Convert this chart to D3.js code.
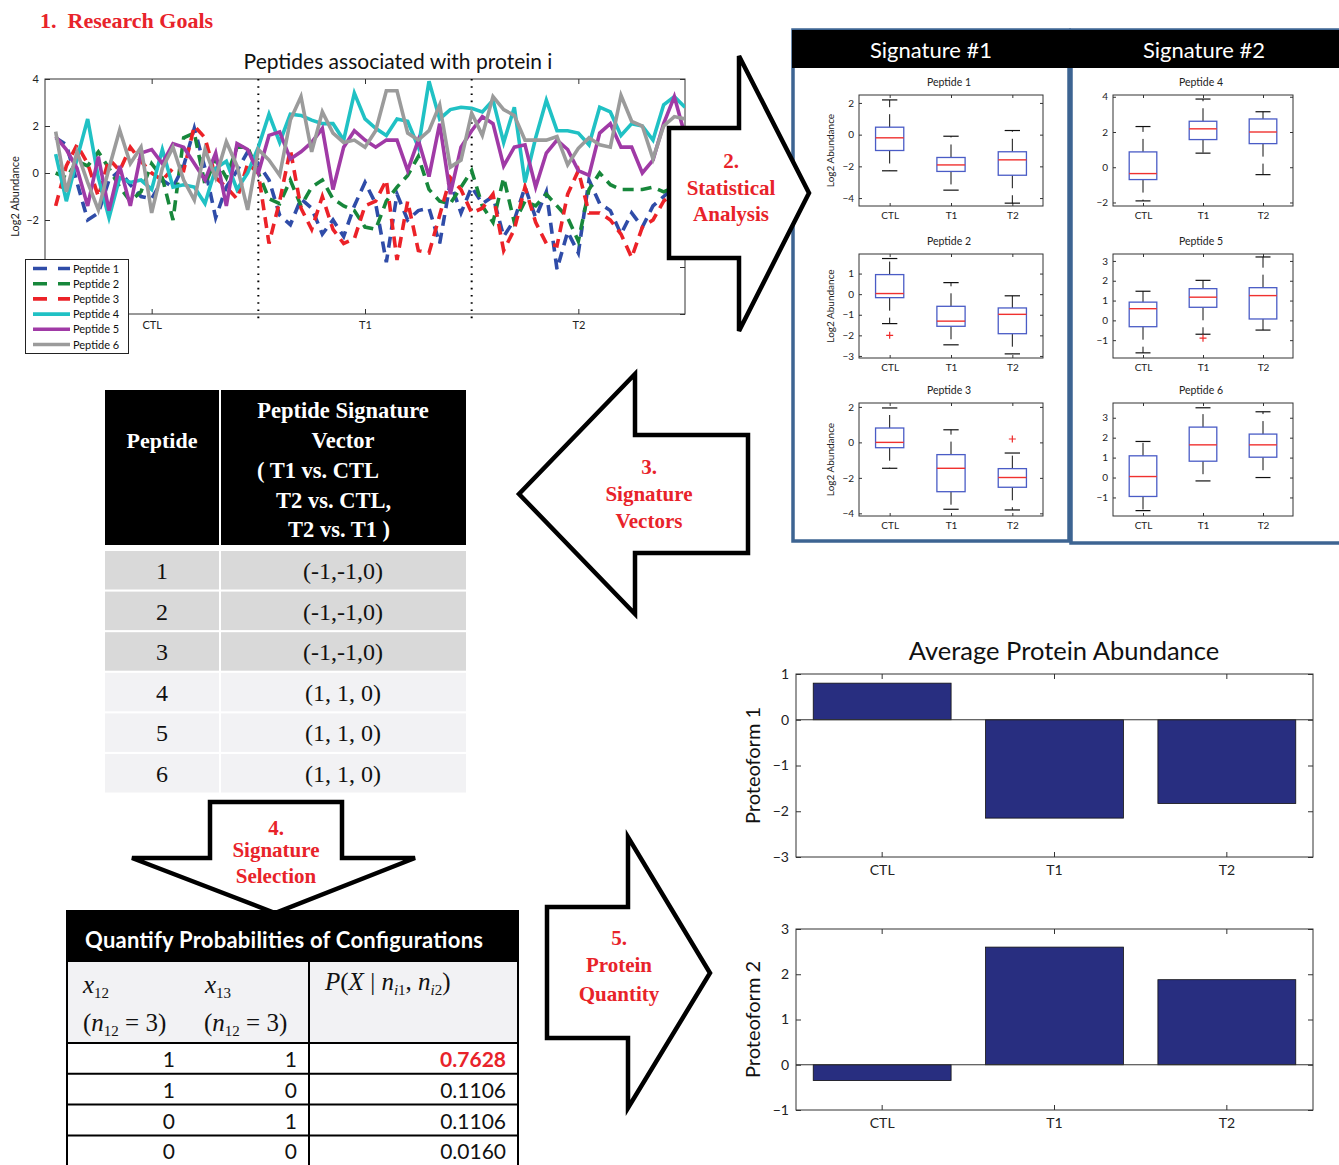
<!DOCTYPE html>
<html>
<head>
<meta charset="utf-8">
<script src="https://cdn.jsdelivr.net/npm/d3@7"></script>
<style>
  body { margin: 0; background: #fff; }
  svg { display: block; }
</style>
</head>
<body>
<svg id="fig" width="1339" height="1165"></svg>
<script>
// ---- data ----
const groups = ["CTL", "T1", "T2"];
const peptideNames = ["Peptide 1", "Peptide 2", "Peptide 3", "Peptide 4", "Peptide 5", "Peptide 6"];
const lineColors = ["#2f4ca8", "#17873b", "#ec2228", "#20c1c4", "#a03aa6", "#9b9b9b"];

// 60 samples per peptide: 1-20 CTL, 21-40 T1, 41-60 T2
const pep1 = [1.5, 1.2, -0.4, -2.0, -1.7, -0.3, 0.1, -0.5, -1.0, -1.1, -0.3, -0.6, 0.3, 1.9, 0.2, -1.9, -0.6, 0.1, 0.9, 0.4,
              -0.3, -1.8, -2.2, -1.1, -1.5, -2.6, -2.0, -2.7, -1.4, -0.4, -1.3, -3.8, -0.9, -2.0, -1.6, -1.5, -3.0, -0.4, -1.7, -0.6,
              -1.3, -1.0, -2.7, -2.0, -0.6, -1.9, -0.8, -4.1, -2.5, -3.4, -0.3, -1.3, -1.6, -2.6, -1.7, -2.3, -1.4, -1.0, -0.6, -1.2];
const pep2 = [0.0, -0.2, 0.5, 0.3, 0.9, 0.2, -0.6, -1.2, -0.8, 0.4, -0.2, -2.0, 1.5, 1.7, -0.5, 0.6, -0.2, 1.1, 1.1, 0.0,
              -1.1, -1.3, -0.3, -1.4, -0.6, -0.3, -1.1, -1.4, -1.6, -2.3, -2.4, -1.2, -0.6, -0.1, 0.7, -0.7, -1.2, -1.3, -0.6, 0.1,
              -1.4, -2.1, -0.2, -2.1, -1.2, -1.4, -0.9, -1.4, -1.9, -2.9, -0.7, 0.0, -0.5, -0.7, -0.7, -0.7, -0.6, -0.8, -0.6, -0.5];
const pep3 = [-1.4, 0.3, 1.2, 0.4, -1.0, 0.6, 0.1, 1.1, 0.5, 0.0, -0.3, 0.2, 0.1, 2.0, 1.5, -0.2, -0.6, -1.1, 0.4, 0.0,
              -3.0, -1.2, 1.0, -1.5, -2.4, -1.0, -2.4, -3.0, -2.8, -1.4, -1.2, -0.3, -3.7, -1.2, -3.3, -3.4, -1.8, -0.2, -0.7, -1.7,
              -1.5, -0.9, -3.3, -2.4, -0.6, -2.1, -3.0, -3.1, -0.9, 0.1, -1.7, -1.7, -2.0, -2.6, -3.6, -2.3, -2.0, -1.2, -0.8, -0.5];
const pep4 = [0.8, -1.2, 0.6, 2.3, -0.2, -1.9, -0.2, -0.4, -0.3, -0.7, 1.0, -0.6, -0.5, -0.6, -1.3, 0.2, 0.5, -0.7, 0.0, 1.1,
              2.5, 1.3, 2.5, 2.45, 2.25, 2.1, 2.1, 1.4, 3.4, 2.3, 1.9, 1.6, 2.3, 2.2, 1.1, 3.9, 2.3, 2.7, 2.8, 2.75,
              2.6, 3.1, 1.3, 2.8, -0.4, 1.5, 3.1, 1.8, 1.8, 1.7, 1.2, 2.8, 2.6, 1.6, 2.1, 2.0, 1.4, 2.9, 3.25, 2.8];
const pep5 = [1.55, 1.0, 0.2, -1.4, 0.7, -1.6, 0.3, -1.4, 0.85, 1.0, 0.4, 1.25, 1.1, 0.4, -0.3, 0.85, -1.4, 1.25, 1.0, 0.0,
              1.6, 1.75, 0.6, 0.9, 1.3, 1.9, -0.7, 1.1, 1.8, 1.4, 1.1, 1.4, 1.4, 0.1, 1.4, -0.15, 2.1, -0.9, 1.1, 1.8,
              2.4, 2.1, 0.3, 1.1, 1.2, -0.6, 0.85, 1.4, 1.0, 0.1, -0.1, 1.7, 2.1, 1.1, 1.1, 0.0, 0.55, 2.1, 3.25, 1.6];
const pep6 = [1.76, -0.8, 0.9, -0.4, -1.57, 0.2, 1.83, 0.4, 1.1, -1.7, 0.2, 1.1, -0.3, -1.15, 1.0, -0.2, 1.33, 0.3, -1.57, 1.0,
              0.55, -0.1, 2.25, 3.25, 0.9, 2.6, 1.7, 1.3, 1.4, 1.1, 1.8, 3.5, 3.5, 1.7, 1.4, 1.8, 2.9, 0.25, 0.55, 2.55,
              1.6, 3.25, 2.7, 2.45, 1.4, 1.4, 1.4, 1.55, 0.35, 1.05, 1.5, 1.2, 1.1, 3.3, 2.2, 2.0, 0.6, 2.0, 2.4, 2.3];

// box stats per group: [lower whisker, q1, median, q3, upper whisker]
const box1 = [[-2.28, -1.0, -0.2, 0.47, 2.19], [-3.5, -2.32, -1.91, -1.44, -0.1], [-4.32, -2.56, -1.59, -1.08, 0.26]];
const box2 = [[-1.43, -0.17, 0.03, 0.95, 1.73], [-2.46, -1.56, -1.31, -0.59, 0.56], [-2.9, -1.92, -0.98, -0.67, -0.08]];
const box3 = [[-1.46, -0.3, 0.0, 0.81, 1.94], [-3.77, -2.78, -1.46, -0.69, 0.71], [-3.81, -2.53, -1.98, -1.48, -0.6]];
const box4 = [[-1.91, -0.7, -0.36, 0.87, 2.31], [0.8, 1.57, 2.18, 2.61, 3.87], [-0.42, 1.34, 2.0, 2.74, 3.15]];
const box5 = [[-1.64, -0.32, 0.59, 0.92, 1.47], [-0.7, 0.66, 1.17, 1.6, 2.02], [-0.49, 0.07, 1.25, 1.65, 3.2]];
const box6 = [[-1.66, -0.95, 0.05, 1.09, 1.81], [-0.17, 0.82, 1.64, 2.53, 3.5], [0.0, 1.02, 1.64, 2.18, 3.3]];
const outliers = [[[], [], []], [[-2.0], [], []], [[], [], [0.19]], [[], [], []], [[], [-0.9], []], [[], [], []]];
const boxDomains = [[-4.5, 2.5], [-3.1, 1.95], [-4.15, 2.22], [-2.2, 4.1], [-1.9, 3.35], [-1.93, 3.74]];
const boxTicks = [[-4, -2, 0, 2], [-3, -2, -1, 0, 1], [-4, -2, 0, 2], [-2, 0, 2, 4], [-1, 0, 1, 2, 3], [-1, 0, 1, 2, 3]];

const peptideIds = ["1", "2", "3", "4", "5", "6"];
const sigVectors = ["(-1,-1,0)", "(-1,-1,0)", "(-1,-1,0)", "(1, 1, 0)", "(1, 1, 0)", "(1, 1, 0)"];

const cfgX12 = [1, 1, 0, 0];
const cfgX13 = [1, 0, 1, 0];
const cfgProb = [0.7628, 0.1106, 0.1106, 0.0160];

const proteoform1 = [0.8, -2.15, -1.83];
const proteoform2 = [-0.35, 2.6, 1.88];

// ---- setup ----
const sans = "Lato, 'Open Sans', sans-serif";
const serif = "'Liberation Serif', 'Times New Roman', serif";
const red = "#e8232a";
const intFmt = d3.format("d");
const svg = d3.select("#fig");
svg.append("rect").attr("width", 1339).attr("height", 1165).attr("fill", "#fff");

function styleAxis(sel, fs) {
    sel.select(".domain").remove();
    sel.selectAll(".tick line").attr("stroke", "#333").attr("stroke-width", 1);
    sel.selectAll(".tick text").attr("font-family", sans).attr("font-size", fs).attr("fill", "#222");
}

// MATLAB style boxed axes, ticks pointing inwards on all four sides
function matlabFrame(g, x, y, xVals, xFmt, yVals, fs, tl, pad) {
    const [left, right] = x.range();
    const [bottom, top] = y.range();
    g.append("g").attr("transform", `translate(0,${bottom})`)
        .call(d3.axisBottom(x).tickValues(xVals).tickFormat(xFmt).tickSize(-tl).tickPadding(pad))
        .call(s => styleAxis(s, fs));
    g.append("g").attr("transform", `translate(0,${top})`)
        .call(d3.axisTop(x).tickValues(xVals).tickFormat("").tickSize(-tl))
        .call(s => styleAxis(s, fs));
    g.append("g").attr("transform", `translate(${left},0)`)
        .call(d3.axisLeft(y).tickValues(yVals).tickFormat(intFmt).tickSize(-tl).tickPadding(pad - 1))
        .call(s => styleAxis(s, fs));
    g.append("g").attr("transform", `translate(${right},0)`)
        .call(d3.axisRight(y).tickValues(yVals).tickFormat("").tickSize(-tl))
        .call(s => styleAxis(s, fs));
    g.append("rect")
        .attr("x", left).attr("y", top)
        .attr("width", right - left).attr("height", bottom - top)
        .attr("fill", "none").attr("stroke", "#333").attr("stroke-width", 1);
}

function redLabel(lines, cx, ys, fs) {
    lines.forEach((t, i) => {
        svg.append("text")
            .attr("x", cx).attr("y", ys[i])
            .attr("text-anchor", "middle")
            .attr("font-family", serif).attr("font-weight", "bold")
            .attr("font-size", fs).attr("fill", red)
            .text(t);
    });
}

function blockArrow(points) {
    svg.append("path")
        .attr("d", d3.line()(points) + "Z")
        .attr("fill", "#fff").attr("stroke", "#000")
        .attr("stroke-width", 4.5).attr("stroke-linejoin", "miter");
}

// ---- 1. Research goals ----
svg.append("text")
    .attr("x", 40).attr("y", 28)
    .attr("font-family", serif).attr("font-weight", "bold")
    .attr("font-size", 22).attr("fill", red)
    .text("1.\u00a0 Research Goals");

// ---- line chart ----
const lc = { left: 45, right: 685, top: 79, bottom: 314 };
const xL = d3.scaleLinear().domain([0, 60]).range([lc.left, lc.right]);
const yL = d3.scaleLinear().domain([-6, 4]).range([lc.bottom, lc.top]);
const lineG = svg.append("g");

lineG.append("text")
    .attr("x", 398).attr("y", 69)
    .attr("text-anchor", "middle")
    .attr("font-family", sans).attr("font-size", 21).attr("fill", "#111")
    .text("Peptides associated with protein i");

matlabFrame(lineG, xL, yL, [10, 30, 50], (d, i) => groups[i], [-6, -4, -2, 0, 2, 4], 11, 5, 7);

lineG.append("text")
    .attr("transform", `translate(19,${(lc.top + lc.bottom) / 2}) rotate(-90)`)
    .attr("text-anchor", "middle")
    .attr("font-family", sans).attr("font-size", 11).attr("fill", "#222")
    .text("Log2 Abundance");

// dotted group dividers
lineG.selectAll("line.divider")
    .data([20, 40])
    .join("line")
    .attr("class", "divider")
    .attr("x1", d => xL(d)).attr("x2", d => xL(d))
    .attr("y1", lc.top).attr("y2", lc.bottom + 5)
    .attr("stroke", "#000").attr("stroke-width", 2)
    .attr("stroke-dasharray", "1.6,5.6");

svg.append("clipPath").attr("id", "lcClip")
    .append("rect")
    .attr("x", lc.left).attr("y", lc.top)
    .attr("width", lc.right - lc.left).attr("height", lc.bottom - lc.top);

const series = [pep1, pep2, pep3, pep4, pep5, pep6];
const lineGen = d3.line().x((d, i) => xL(i + 1)).y(d => yL(d));

lineG.append("g").attr("clip-path", "url(#lcClip)")
    .selectAll("path")
    .data(series)
    .join("path")
    .attr("d", d => lineGen(d))
    .attr("fill", "none")
    .attr("stroke", (d, i) => lineColors[i])
    .attr("stroke-width", 3.6)
    .attr("stroke-linejoin", "miter")
    .attr("stroke-dasharray", (d, i) => i < 3 ? "11,7" : null);

// legend
const lg = lineG.append("g");
lg.append("rect")
    .attr("x", 25.5).attr("y", 259.5).attr("width", 103).attr("height", 94)
    .attr("fill", "#fff").attr("stroke", "#222").attr("stroke-width", 1);
const lgRows = lg.selectAll("g.lrow")
    .data(peptideNames)
    .join("g")
    .attr("class", "lrow")
    .attr("transform", (d, i) => `translate(0,${268.5 + i * 15.2})`);
lgRows.append("line")
    .attr("x1", 33).attr("x2", 70).attr("y1", 0).attr("y2", 0)
    .attr("stroke", (d, i) => lineColors[i])
    .attr("stroke-width", 3.6)
    .attr("stroke-dasharray", (d, i) => i < 3 ? "14,11" : null);
lgRows.append("text")
    .attr("x", 73).attr("y", 4)
    .attr("font-family", sans).attr("font-size", 11).attr("fill", "#111")
    .text(d => d);

// ---- signature panels ----
const blue = "#3d6492";
svg.append("rect").attr("x", 793).attr("y", 30).attr("width", 276).attr("height", 511)
    .attr("fill", "#fff").attr("stroke", blue).attr("stroke-width", 3.5);
svg.append("rect").attr("x", 1071).attr("y", 30).attr("width", 280).attr("height", 513)
    .attr("fill", "#fff").attr("stroke", blue).attr("stroke-width", 3.5);
svg.append("rect").attr("x", 792).attr("y", 30).attr("width", 547).attr("height", 38).attr("fill", "#000");
svg.selectAll("text.sig")
    .data(["Signature #1", "Signature #2"])
    .join("text")
    .attr("class", "sig")
    .attr("x", (d, i) => i ? 1204 : 931).attr("y", 58)
    .attr("text-anchor", "middle")
    .attr("font-family", sans).attr("font-size", 22).attr("fill", "#fff")
    .text(d => d);

const boxes = [box1, box2, box3, box4, box5, box6];
const boxCols = [[859, 1043], [1113, 1293]];
const boxRows = [[95, 206], [254, 358], [403, 516]];

boxes.forEach((stats, p) => {
    const col = p < 3 ? 0 : 1;
    const row = p % 3;
    const x = d3.scaleLinear().domain([0.5, 3.5]).range(boxCols[col]);
    const y = d3.scaleLinear().domain(boxDomains[p]).range([boxRows[row][1], boxRows[row][0]]);
    const g = svg.append("g");

    matlabFrame(g, x, y, [1, 2, 3], (d, i) => groups[i], boxTicks[p], 10, 3, 6);

    g.append("text")
        .attr("x", (boxCols[col][0] + boxCols[col][1]) / 2 - 2).attr("y", boxRows[row][0] - 9)
        .attr("text-anchor", "middle")
        .attr("font-family", sans).attr("font-size", 10.5).attr("fill", "#222")
        .text(peptideNames[p]);

    if (col === 0) {
        g.append("text")
            .attr("transform", `translate(834,${(boxRows[row][0] + boxRows[row][1]) / 2}) rotate(-90)`)
            .attr("text-anchor", "middle")
            .attr("font-family", sans).attr("font-size", 10).attr("fill", "#222")
            .text("Log2 Abundance");
    }

    const half = x(1.23) - x(1);
    const cap = x(1.125) - x(1);
    const bg = g.selectAll("g.box")
        .data(stats)
        .join("g")
        .attr("class", "box")
        .attr("transform", (d, i) => `translate(${x(i + 1)},0)`);

    // whiskers
    bg.append("line")
        .attr("x1", 0).attr("x2", 0)
        .attr("y1", d => y(d[3])).attr("y2", d => y(d[4]))
        .attr("stroke", "#111").attr("stroke-width", 1).attr("stroke-dasharray", "13,7");
    bg.append("line")
        .attr("x1", 0).attr("x2", 0)
        .attr("y1", d => y(d[1])).attr("y2", d => y(d[0]))
        .attr("stroke", "#111").attr("stroke-width", 1).attr("stroke-dasharray", "13,7");
    bg.append("line")
        .attr("x1", -cap).attr("x2", cap)
        .attr("y1", d => y(d[4])).attr("y2", d => y(d[4]))
        .attr("stroke", "#111").attr("stroke-width", 1.2);
    bg.append("line")
        .attr("x1", -cap).attr("x2", cap)
        .attr("y1", d => y(d[0])).attr("y2", d => y(d[0]))
        .attr("stroke", "#111").attr("stroke-width", 1.2);
    // box
    bg.append("rect")
        .attr("x", -half).attr("width", 2 * half)
        .attr("y", d => y(d[3])).attr("height", d => y(d[1]) - y(d[3]))
        .attr("fill", "none").attr("stroke", "#4a5cc6").attr("stroke-width", 1.3);
    bg.append("line")
        .attr("x1", -half).attr("x2", half)
        .attr("y1", d => y(d[2])).attr("y2", d => y(d[2]))
        .attr("stroke", "#f0312f").attr("stroke-width", 1.4);
    // outliers
    bg.each(function (d, i) {
        d3.select(this).selectAll("path.out")
            .data(outliers[p][i])
            .join("path")
            .attr("class", "out")
            .attr("d", v => `M-3.5,${y(v)}h7M0,${y(v) - 3.5}v7`)
            .attr("stroke", "#ee2a2a").attr("stroke-width", 1.2);
    });
});

// ---- arrow 2 (drawn over the panel edge) ----
blockArrow([[669, 128], [739, 128], [739, 56], [809, 193], [739, 331], [739, 258], [669, 258]]);
redLabel(["2.", "Statistical", "Analysis"], 731, [168, 195, 221], 21);

// ---- arrow 3 ----
blockArrow([[748, 435], [635, 435], [635, 374], [519, 494], [635, 614], [635, 553], [748, 553]]);
redLabel(["3.", "Signature", "Vectors"], 649, [474, 501, 528], 21);

// ---- signature vector table ----
const t1 = svg.append("g");
t1.append("rect").attr("x", 105).attr("y", 390).attr("width", 361).attr("height", 155).attr("fill", "#000");
t1.append("rect").attr("x", 219).attr("y", 390).attr("width", 2).attr("height", 155).attr("fill", "#fff");
t1.append("text")
    .attr("x", 162).attr("y", 448).attr("text-anchor", "middle")
    .attr("font-family", serif).attr("font-weight", "bold").attr("font-size", 22).attr("fill", "#fff")
    .text("Peptide");
const hdrLines = [["Peptide Signature", 343, 418, "middle"], ["Vector", 343, 448, "middle"],
                  ["( T1 vs. CTL", 257, 478, "start"], ["T2 vs. CTL,", 276, 508, "start"], ["T2 vs. T1 )", 288, 537, "start"]];
t1.selectAll("text.hdr")
    .data(hdrLines)
    .join("text")
    .attr("class", "hdr")
    .attr("x", d => d[1]).attr("y", d => d[2]).attr("text-anchor", d => d[3])
    .attr("font-family", serif).attr("font-weight", "bold").attr("font-size", 22.5).attr("fill", "#fff")
    .text(d => d[0]);

const rowY = d3.scaleLinear().domain([0, 1]).range([551, 591.6]);
const trow = t1.selectAll("g.trow")
    .data(peptideIds)
    .join("g")
    .attr("class", "trow")
    .attr("transform", (d, i) => `translate(0,${rowY(i)})`);
trow.append("rect").attr("x", 105).attr("width", 114).attr("height", 38.5)
    .attr("fill", (d, i) => sigVectors[i].startsWith("(-1") ? "#d9d9d9" : "#f2f2f4");
trow.append("rect").attr("x", 221).attr("width", 245).attr("height", 38.5)
    .attr("fill", (d, i) => sigVectors[i].startsWith("(-1") ? "#d9d9d9" : "#f2f2f4");
trow.append("text")
    .attr("x", 162).attr("y", 28).attr("text-anchor", "middle")
    .attr("font-family", serif).attr("font-size", 24).attr("fill", "#111")
    .text(d => d);
trow.append("text")
    .attr("x", 343).attr("y", 28).attr("text-anchor", "middle")
    .attr("font-family", serif).attr("font-size", 24).attr("fill", "#111")
    .text((d, i) => sigVectors[i]);

// ---- arrow 4 ----
blockArrow([[210, 802], [342, 802], [342, 858], [415, 858], [275, 913], [132, 858], [210, 858]]);
redLabel(["4.", "Signature", "Selection"], 276, [835, 857, 883], 21);

// ---- probability table ----
const t2 = svg.append("g");
t2.append("rect").attr("x", 67).attr("y", 962).attr("width", 451).attr("height", 81).attr("fill", "#f2f2f4");
t2.append("rect").attr("x", 66).attr("y", 910).attr("width", 453).attr("height", 52).attr("fill", "#000");
t2.append("text")
    .attr("x", 85).attr("y", 948)
    .attr("font-family", sans).attr("font-weight", "bold").attr("font-size", 22).attr("fill", "#fff")
    .attr("textLength", 398).attr("lengthAdjust", "spacing")
    .text("Quantify Probabilities of Configurations");

function mathText(g, x, y, parts) {
    const t = g.append("text").attr("x", x).attr("y", y)
        .attr("font-family", serif).attr("font-size", 25).attr("fill", "#111");
    parts.forEach(pt => {
        const s = t.append("tspan").text(pt.t);
        if (pt.it) s.attr("font-style", "italic");
        if (pt.sub) s.attr("font-size", 15).attr("dy", pt.cont ? 0 : 5);
        if (pt.up) s.attr("dy", -5);
    });
}
mathText(t2, 83, 993, [{ t: "x", it: true }, { t: "12", sub: true }]);
mathText(t2, 205, 993, [{ t: "x", it: true }, { t: "13", sub: true }]);
[83, 204].forEach(x0 => mathText(t2, x0, 1031, [
    { t: "(" }, { t: "n", it: true }, { t: "12", sub: true }, { t: " = 3)", up: true }]));
mathText(t2, 325, 990, [
    { t: "P", it: true }, { t: "(" }, { t: "X", it: true }, { t: " | " }, { t: "n", it: true },
    { t: "i", it: true, sub: true }, { t: "1", sub: true, cont: true }, { t: ", ", up: true }, { t: "n", it: true },
    { t: "i", it: true, sub: true }, { t: "2", sub: true, cont: true }, { t: ")", up: true }]);

const prRow = d3.scaleLinear().domain([0, 1]).range([1043, 1073.8]);
const pr = t2.selectAll("g.prow")
    .data(cfgProb)
    .join("g")
    .attr("class", "prow")
    .attr("transform", (d, i) => `translate(0,${prRow(i)})`);
pr.append("text").attr("x", 175).attr("y", 24).attr("text-anchor", "end")
    .attr("font-family", sans).attr("font-size", 21).attr("fill", "#111")
    .text((d, i) => cfgX12[i]);
pr.append("text").attr("x", 297).attr("y", 24).attr("text-anchor", "end")
    .attr("font-family", sans).attr("font-size", 21).attr("fill", "#111")
    .text((d, i) => cfgX13[i]);
const maxProb = d3.max(cfgProb);
pr.append("text").attr("x", 506).attr("y", 24).attr("text-anchor", "end")
    .attr("font-family", sans).attr("font-size", 21)
    .attr("font-weight", d => d === maxProb ? "bold" : "normal")
    .attr("fill", d => d === maxProb ? red : "#111")
    .text(d => d3.format(".4f")(d));
// grid lines
t2.selectAll("line.h")
    .data(d3.range(4))
    .join("line")
    .attr("class", "h")
    .attr("x1", 67).attr("x2", 518)
    .attr("y1", d => prRow(d)).attr("y2", d => prRow(d))
    .attr("stroke", "#000").attr("stroke-width", 2);
t2.selectAll("line.v")
    .data([67, 309, 518])
    .join("line")
    .attr("class", "v")
    .attr("x1", d => d).attr("x2", d => d)
    .attr("y1", 962).attr("y2", 1165)
    .attr("stroke", "#000").attr("stroke-width", 2);

// ---- arrow 5 ----
blockArrow([[547, 907], [628, 907], [628, 837], [710, 973], [628, 1108], [628, 1038], [547, 1038]]);
redLabel(["5.", "Protein", "Quantity"], 619, [945, 972, 1001], 21);

// ---- bar charts ----
svg.append("text")
    .attr("x", 1064).attr("y", 660).attr("text-anchor", "middle")
    .attr("font-family", sans).attr("font-size", 25.5).attr("fill", "#111")
    .text("Average Protein Abundance");

function barChart(values, yDomain, top, bottom, label) {
    const g = svg.append("g");
    const x = d3.scaleBand().domain(groups).range([796, 1313]).paddingInner(0.2).paddingOuter(0.1);
    const y = d3.scaleLinear().domain(yDomain).range([bottom, top]);
    matlabFrame(g, x, y, groups, null, d3.range(yDomain[0], yDomain[1] + 1), 14, 5, 8);
    g.selectAll("rect.bar")
        .data(values)
        .join("rect")
        .attr("class", "bar")
        .attr("x", (d, i) => x(groups[i]))
        .attr("width", x.bandwidth())
        .attr("y", d => y(Math.max(0, d)))
        .attr("height", d => Math.abs(y(d) - y(0)))
        .attr("fill", "#282e80").attr("stroke", "#111").attr("stroke-width", 0.8);
    g.append("line")
        .attr("x1", 796).attr("x2", 1313).attr("y1", y(0)).attr("y2", y(0))
        .attr("stroke", "#333").attr("stroke-width", 1);
    g.append("text")
        .attr("transform", `translate(760,${(top + bottom) / 2}) rotate(-90)`)
        .attr("text-anchor", "middle")
        .attr("font-family", sans).attr("font-size", 20).attr("fill", "#111")
        .text(label);
}
barChart(proteoform1, [-3, 1], 674, 857, "Proteoform 1");
barChart(proteoform2, [-1, 3], 929, 1110, "Proteoform 2");
</script>
</body>
</html>
